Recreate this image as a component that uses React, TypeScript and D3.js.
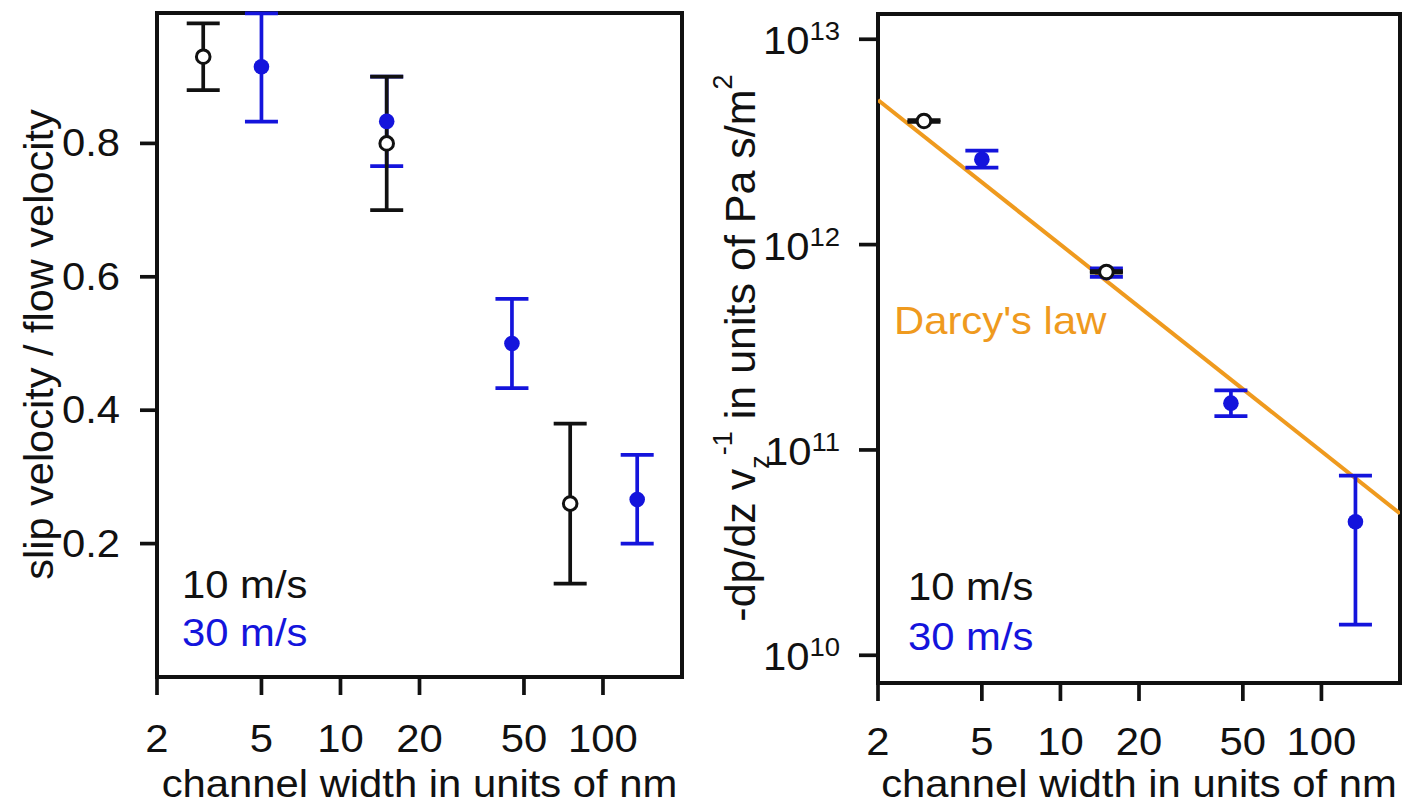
import React from "react";
import * as d3 from "d3";

// ---------- data ----------
const xTicks = [2, 5, 10, 20, 50, 100];
const slipTicks = [0.2, 0.4, 0.6, 0.8];
const pressureTicks = [1e10, 1e11, 1e12, 1e13];
const pressureExp = ["10", "11", "12", "13"];

// left panel: slip velocity / flow velocity
const slip10Width = [3, 15, 75];
const slip10Value = [0.93, 0.8, 0.26];
const slip10Low = [0.88, 0.7, 0.14];
const slip10High = [0.98, 0.9, 0.38];

const slip30Width = [5, 15, 45, 135];
const slip30Value = [0.915, 0.833, 0.5, 0.266];
const slip30Low = [0.8325, 0.766, 0.433, 0.2];
const slip30High = [0.995, 0.9, 0.567, 0.333];

// right panel: -dp/dz / v_z
const press10Width = [3, 15];
const press10Value = [4.0e12, 7.36e11];
const press10Low = [3.96e12, 7.3e11];
const press10High = [4.04e12, 7.42e11];

const press30Width = [5, 15, 45, 135];
const press30Value = [2.6e12, 7.3e11, 1.69e11, 4.47e10];
const press30Low = [2.37e12, 6.96e11, 1.46e11, 1.41e10];
const press30High = [2.87e12, 7.66e11, 1.95e11, 7.5e10];

const darcyWidth = [2, 200];
const darcyValue = [5.06e12, 4.9e10];

const legendLabels = ["10 m/s", "30 m/s"];

// ---------- style ----------
const FONT = "'Liberation Sans', Arial, Helvetica, sans-serif";
const BLACK = "#111111";
const BLUE = "#1414dc";
const ORANGE = "#ef9a1e";
const SX = 1.1;
const FS = 38;
const TITLE_FS = 41.5;
const CAP = 16.5;
const SW = 3.7;

type Pt = { w: number; v: number; lo: number; hi: number };
const zip = (w: number[], v: number[], lo: number[], hi: number[]): Pt[] =>
  w.map((x, i) => ({ w: x, v: v[i], lo: lo[i], hi: hi[i] }));

const HText = ({ x, y, anchor = "start", size = FS, fill = BLACK, children }: any) => (
  <text
    transform={`translate(${x},${y}) scale(${SX},1)`}
    textAnchor={anchor}
    fontSize={size}
    fill={fill}
    fontFamily={FONT}
  >
    {children}
  </text>
);

const ErrorBars = ({ data, x, y, color }: any) => (
  <g stroke={color} strokeWidth={SW} fill="none">
    {data.map((d: Pt, i: number) => (
      <g key={i}>
        <line x1={x(d.w)} x2={x(d.w)} y1={y(d.lo)} y2={y(d.hi)} />
        <line x1={x(d.w) - CAP} x2={x(d.w) + CAP} y1={y(d.lo)} y2={y(d.lo)} />
        <line x1={x(d.w) - CAP} x2={x(d.w) + CAP} y1={y(d.hi)} y2={y(d.hi)} />
      </g>
    ))}
  </g>
);

const Dots = ({ data, x, y }: any) => (
  <g>
    {data.map((d: Pt, i: number) => (
      <circle key={i} cx={x(d.w)} cy={y(d.v)} r={7.8} fill={BLUE} />
    ))}
  </g>
);

const Rings = ({ data, x, y }: any) => (
  <g>
    {data.map((d: Pt, i: number) => (
      <circle key={i} cx={x(d.w)} cy={y(d.v)} r={6.8} fill="#fff" stroke={BLACK} strokeWidth={3} />
    ))}
  </g>
);

const XAxis = ({ x, y0, labelY }: any) => (
  <g>
    {xTicks.map((t) => (
      <g key={t}>
        <line x1={x(t)} x2={x(t)} y1={y0} y2={y0 + 18} stroke={BLACK} strokeWidth={3.7} />
        <HText x={x(t)} y={labelY} anchor="middle">
          {t}
        </HText>
      </g>
    ))}
  </g>
);

export default function App() {
  // left panel scales
  const xL = d3.scaleLog().domain([2, 200]).range([157, 682]);
  const yL = d3.scaleLinear().domain([0, 0.9955]).range([677, 13]);
  // right panel scales
  const xR = d3.scaleLog().domain([2, 200]).range([878, 1400]);
  const yR = d3.scaleLog().domain([Math.pow(10, 9.865), Math.pow(10, 13.123)]).range([683, 14]);

  const s10 = zip(slip10Width, slip10Value, slip10Low, slip10High);
  const s30 = zip(slip30Width, slip30Value, slip30Low, slip30High);
  const p10 = zip(press10Width, press10Value, press10Low, press10High);
  const p30 = zip(press30Width, press30Value, press30Low, press30High);

  const darcyLine = d3
    .line<number>()
    .x((_, i) => xR(darcyWidth[i]))
    .y((d) => yR(d))(darcyValue) as string;

  return (
    <svg
      width={1403}
      height={804}
      style={{ position: "absolute", left: 0, top: 0, background: "#fff" }}
      fontFamily={FONT}
    >
      <rect x={0} y={0} width={1403} height={804} fill="#fff" />
      <defs>
        <clipPath id="clipR">
          <rect x={878} y={14} width={522} height={669} />
        </clipPath>
      </defs>

      {/* ---------------- LEFT PANEL ---------------- */}
      <rect x={157} y={13} width={525} height={664} fill="none" stroke={BLACK} strokeWidth={4} />
      {slipTicks.map((t) => (
        <g key={t}>
          <line x1={140} x2={157} y1={yL(t)} y2={yL(t)} stroke={BLACK} strokeWidth={3.7} />
          <HText x={120} y={yL(t) + 13} anchor="end">
            {t.toFixed(1)}
          </HText>
        </g>
      ))}
      <XAxis x={xL} y0={677} labelY={752} />
      <HText x={419.5} y={797} anchor="middle">
        channel width in units of nm
      </HText>
      <text
        transform="translate(53,344.5) rotate(-90)"
        textAnchor="middle"
        fontSize={TITLE_FS}
        fill={BLACK}
        fontFamily={FONT}
      >
        slip velocity / flow velocity
      </text>

      <ErrorBars data={s30} x={xL} y={yL} color={BLUE} />
      <ErrorBars data={s10} x={xL} y={yL} color={BLACK} />
      <Dots data={s30} x={xL} y={yL} />
      <Rings data={s10} x={xL} y={yL} />

      <HText x={182} y={598} fill={BLACK}>
        {legendLabels[0]}
      </HText>
      <HText x={182} y={646} fill={BLUE}>
        {legendLabels[1]}
      </HText>

      {/* ---------------- RIGHT PANEL ---------------- */}
      <rect x={878} y={14} width={522} height={669} fill="none" stroke={BLACK} strokeWidth={4} />
      {pressureTicks.map((t, i) => (
        <g key={t}>
          <line x1={859} x2={878} y1={yR(t)} y2={yR(t)} stroke={BLACK} strokeWidth={3.7} />
          <HText x={840} y={yR(t) + 15} anchor="end">
            10
            <tspan fontSize={25} dy={-14}>
              {pressureExp[i]}
            </tspan>
          </HText>
        </g>
      ))}
      <XAxis x={xR} y0={683} labelY={755} />
      <HText x={1139} y={797} anchor="middle">
        channel width in units of nm
      </HText>
      <text
        transform="translate(755,348) rotate(-90)"
        textAnchor="middle"
        fontSize={43}
        fill={BLACK}
        fontFamily={FONT}
      >
        -dp/dz v
        <tspan fontSize={27} dy={14}>
          z
        </tspan>
        <tspan fontSize={27} dy={-37}>
          -1
        </tspan>
        <tspan dy={23}> in units of Pa s/m</tspan>
        <tspan fontSize={27} dy={-23}>
          2
        </tspan>
      </text>

      <path d={darcyLine} stroke={ORANGE} strokeWidth={4} fill="none" clipPath="url(#clipR)" />
      <HText x={894} y={334} fill={ORANGE}>
        Darcy's law
      </HText>

      <ErrorBars data={p30} x={xR} y={yR} color={BLUE} />
      <ErrorBars data={p10} x={xR} y={yR} color={BLACK} />
      <Dots data={p30} x={xR} y={yR} />
      <Rings data={p10} x={xR} y={yR} />

      <HText x={908} y={600} fill={BLACK}>
        {legendLabels[0]}
      </HText>
      <HText x={908} y={650} fill={BLUE}>
        {legendLabels[1]}
      </HText>
    </svg>
  );
}
